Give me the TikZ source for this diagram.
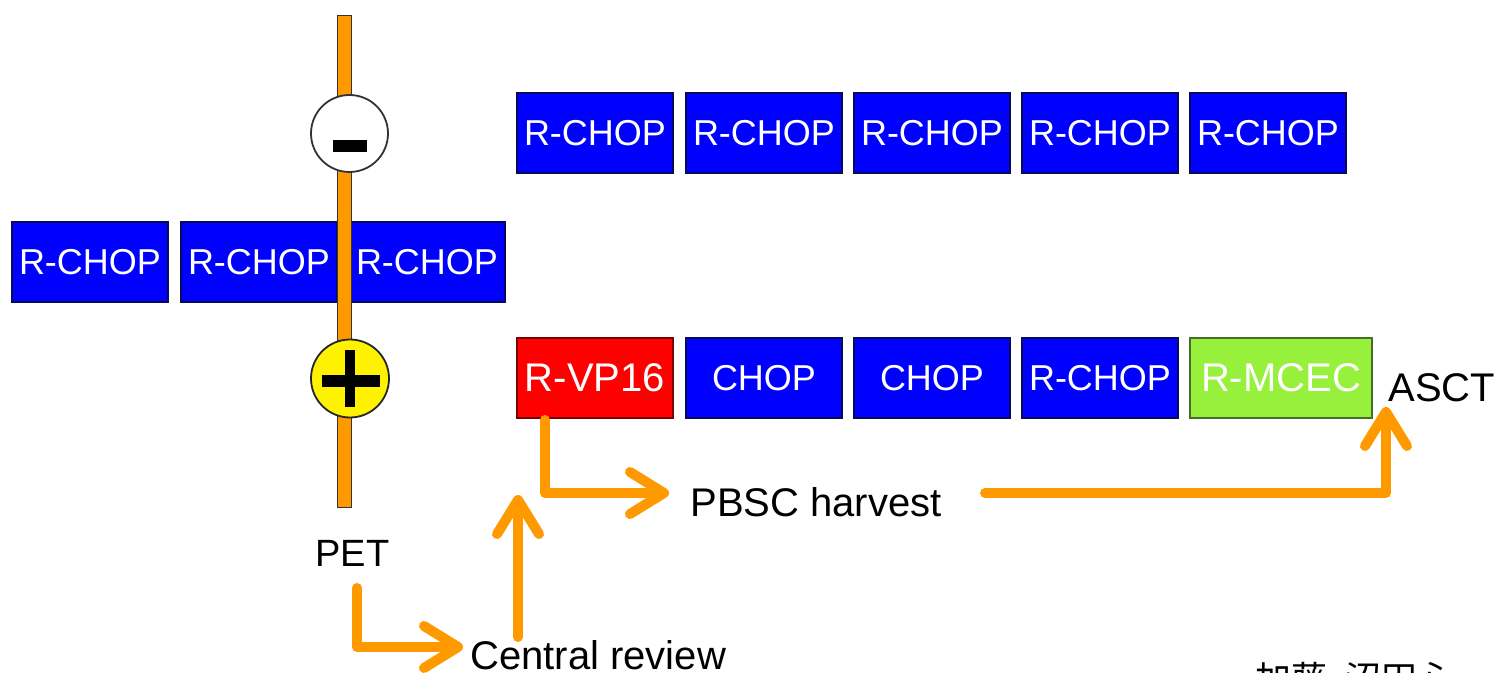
\documentclass[tikz,border=0pt]{standalone}
\usepackage{fontspec}
\setmainfont{Liberation Sans}
\newfontfamily\cjk{Noto Sans CJK JP}
\usetikzlibrary{arrows.meta}
\definecolor{orng}{RGB}{255,153,0}
\definecolor{bbox}{RGB}{0,0,255}
\definecolor{bborder}{RGB}{10,10,90}
\definecolor{rbox}{RGB}{255,0,0}
\definecolor{rborder}{RGB}{120,0,0}
\definecolor{gbox}{RGB}{150,240,60}
\definecolor{gborder}{RGB}{70,110,40}
\begin{document}
\begin{tikzpicture}[x=0.5pt,y=-0.5pt,
  cbox/.style={draw=bborder, line width=0.7pt, fill=bbox, text=white,
    minimum width=78pt, minimum height=40pt, inner sep=0pt,
    font=\fontsize{18}{21}\selectfont},
  redbox/.style={cbox, fill=rbox, draw=rborder, font=\fontsize{20}{24}\selectfont},
  greenbox/.style={cbox, fill=gbox, draw=gborder, minimum width=91pt, font=\fontsize{20}{24}\selectfont},
  lbl/.style={inner sep=0pt, text=black, font=\fontsize{20}{24}\selectfont},
  flow/.style={draw=orng, line width=5pt, line cap=round, line join=round,
    -{Straight Barb[length=17pt,width=21pt,line cap=round,line join=round]}}]
\useasboundingbox (0,0) rectangle (1501,673);
\clip (0,0) rectangle (1501,673);
% top row
\node[cbox] (t1) at (595,133) {R-CHOP};
\node[cbox] (t2) at (764,133) {R-CHOP};
\node[cbox] (t3) at (932,133) {R-CHOP};
\node[cbox] (t4) at (1100,133) {R-CHOP};
\node[cbox] (t5) at (1268,133) {R-CHOP};
% middle row
\node[cbox] (m1) at (90,262) {R-CHOP};
\node[cbox] (m2) at (259,262) {R-CHOP};
\node[cbox] (m3) at (427,262) {R-CHOP};
% bottom row
\node[redbox] (vp) at (595,378) {R-VP16};
\node[cbox] (b2) at (764,378) {CHOP};
\node[cbox] (b3) at (932,378) {CHOP};
\node[cbox] (b4) at (1100,378) {R-CHOP};
\node[greenbox] (mcec) at (1281,378) {R-MCEC};
% PET bar
\draw[fill=orng, draw=black!80, line width=0.5pt] (337,16) rectangle (351,508);
\node[circle, draw=black!80, line width=0.9pt, fill=white, minimum size=38.5pt, inner sep=0pt] (neg) at (349.5,133.5) {};
\fill[black] (333,140) rectangle (367,152);
\node[circle, draw=black!85, line width=0.9pt, fill=yellow, minimum size=39pt, inner sep=0pt] (pos) at (350,378.5) {};
\fill[black] (322,375) rectangle (380,387);
\fill[black] (345,350) rectangle (355,407);
% labels
\node[lbl, anchor=base west, font=\fontsize{19}{23}\selectfont] (pet) at (315,567) {PET};
\node[lbl, anchor=base west] (cr) at (470,670) {Central review};
\node[lbl, anchor=base west] (pbsc) at (690,517) {PBSC harvest};
\node[lbl, anchor=base west] (asct) at (1388,402) {ASCT};
\node[lbl, anchor=base west, font=\cjk\fontsize{18}{22}\selectfont] (auth) at (1255,693) {加藤, 沼田心};
% arrow end points
\coordinate (pa) at (357,588);
\coordinate (pb) at (463,647);
\coordinate (ca) at (518,637);
\coordinate (cb) at (518,495);
\coordinate (va) at (545,420);
\coordinate (vb) at (669,493);
\coordinate (ha) at (985,493);
\coordinate (hb) at (1386,407);
% arrows
\draw[flow] (pa) |- (pb);
\draw[flow] (ca) -- (cb);
\draw[flow] (va) |- (vb);
\draw[flow] (ha) -| (hb);
\end{tikzpicture}
\end{document}
